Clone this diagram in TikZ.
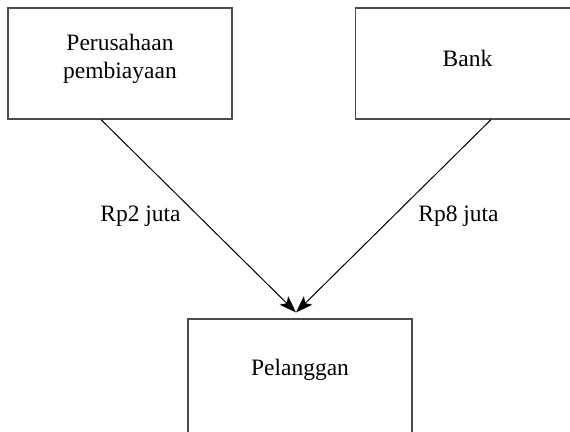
\documentclass[tikz,border=0pt]{standalone}
\usepackage{fontspec}
\setmainfont{Liberation Serif}
\usetikzlibrary{arrows.meta,positioning}
\tikzset{
  party/.style={draw=black!70, line width=1.2pt, minimum width=224pt,
                minimum height=#1, inner sep=0pt, align=center,
                font=\fontsize{23.5}{28}\selectfont},
  party/.default=111pt,
  flow/.style={-{Stealth[length=17pt,width=12pt,inset=4pt]}, line width=1pt},
  amount/.style={font=\fontsize{23.5}{28}\selectfont},
}
\begin{document}
\begin{tikzpicture}[x=1pt,y=-1pt]
  \clip (0,0) rectangle (570,431);
  \node[party, text depth=15pt] (lembaga) at (120,63.5) {Perusahaan\\pembiayaan};
  \node[party, text depth=10.6pt] (bank) at (467.5,63.5) {Bank};
  \node[party=114pt, text depth=18pt] (pelanggan) at (300,376) {Pelanggan};
  \coordinate (tip) at ([xshift=-4pt,yshift=6pt]pelanggan.north);
  \draw[flow] ([xshift=-19pt]lembaga.south) -- node[amount, midway, left=14pt] {Rp2 juta} (tip);
  \draw[flow] ([xshift=23.5pt]bank.south) -- node[amount, midway, right=21pt] {Rp8 juta} (tip);
\end{tikzpicture}
\end{document}
